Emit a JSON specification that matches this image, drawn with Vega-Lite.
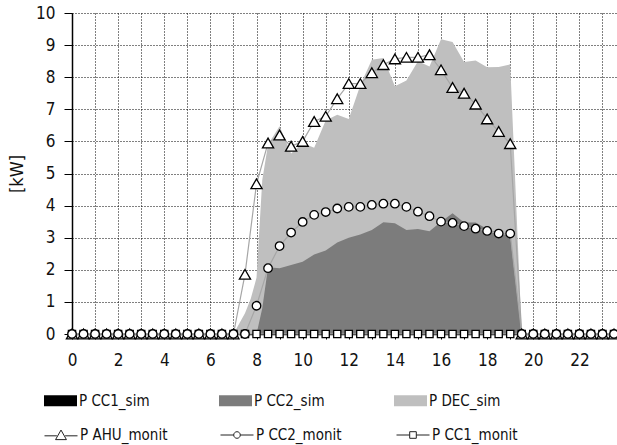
{
  "$schema": "https://vega.github.io/schema/vega-lite/v6.json",
  "autosize": {"type": "none"},
  "padding": {"left": 72, "top": 13, "right": 0, "bottom": 111},
  "width": 545,
  "height": 321,
  "config": {
    "font": "DejaVu Sans Condensed, DejaVu Sans",
    "view": {"stroke": null},
    "axis": {"labelColor": "#111", "titleColor": "#111", "labelFont": "DejaVu Sans Condensed, DejaVu Sans", "titleFont": "DejaVu Sans Condensed, DejaVu Sans"},
    "legend": {"labelFont": "DejaVu Sans Condensed, DejaVu Sans", "labelFontSize": 15, "labelColor": "#111", "padding": 0}
  },
  "datasets": {
    "sim": [
      {"h": 0, "s": "P DEC_sim", "v": 0}, {"h": 6.5, "s": "P DEC_sim", "v": 0}, {"h": 7, "s": "P DEC_sim", "v": 0},
      {"h": 7.5, "s": "P DEC_sim", "v": 0.65}, {"h": 7.75, "s": "P DEC_sim", "v": 1.1}, {"h": 8, "s": "P DEC_sim", "v": 1.75},
      {"h": 8.25, "s": "P DEC_sim", "v": 4.8}, {"h": 8.5, "s": "P DEC_sim", "v": 5.9}, {"h": 9, "s": "P DEC_sim", "v": 6.47},
      {"h": 9.5, "s": "P DEC_sim", "v": 5.62}, {"h": 10, "s": "P DEC_sim", "v": 5.95}, {"h": 10.5, "s": "P DEC_sim", "v": 5.8},
      {"h": 11, "s": "P DEC_sim", "v": 6.65}, {"h": 11.5, "s": "P DEC_sim", "v": 6.83}, {"h": 12, "s": "P DEC_sim", "v": 6.7},
      {"h": 12.5, "s": "P DEC_sim", "v": 7.75}, {"h": 13, "s": "P DEC_sim", "v": 8.54}, {"h": 13.5, "s": "P DEC_sim", "v": 8.6},
      {"h": 14, "s": "P DEC_sim", "v": 7.72}, {"h": 14.5, "s": "P DEC_sim", "v": 7.9}, {"h": 15, "s": "P DEC_sim", "v": 8.5},
      {"h": 15.5, "s": "P DEC_sim", "v": 8.33}, {"h": 16, "s": "P DEC_sim", "v": 9.18}, {"h": 16.5, "s": "P DEC_sim", "v": 9.1},
      {"h": 17, "s": "P DEC_sim", "v": 8.47}, {"h": 17.5, "s": "P DEC_sim", "v": 8.52}, {"h": 18, "s": "P DEC_sim", "v": 8.31},
      {"h": 18.5, "s": "P DEC_sim", "v": 8.32}, {"h": 19, "s": "P DEC_sim", "v": 8.4}, {"h": 19.5, "s": "P DEC_sim", "v": 0},
      {"h": 23.5, "s": "P DEC_sim", "v": 0},
      {"h": 0, "s": "P CC2_sim", "v": 0}, {"h": 7.5, "s": "P CC2_sim", "v": 0}, {"h": 8, "s": "P CC2_sim", "v": 0},
      {"h": 8.25, "s": "P CC2_sim", "v": 0.8}, {"h": 8.5, "s": "P CC2_sim", "v": 2.08}, {"h": 9, "s": "P CC2_sim", "v": 2.05},
      {"h": 9.5, "s": "P CC2_sim", "v": 2.15}, {"h": 10, "s": "P CC2_sim", "v": 2.25}, {"h": 10.5, "s": "P CC2_sim", "v": 2.48},
      {"h": 11, "s": "P CC2_sim", "v": 2.6}, {"h": 11.5, "s": "P CC2_sim", "v": 2.85}, {"h": 12, "s": "P CC2_sim", "v": 3.0},
      {"h": 12.5, "s": "P CC2_sim", "v": 3.1}, {"h": 13, "s": "P CC2_sim", "v": 3.24}, {"h": 13.5, "s": "P CC2_sim", "v": 3.48},
      {"h": 14, "s": "P CC2_sim", "v": 3.45}, {"h": 14.5, "s": "P CC2_sim", "v": 3.24}, {"h": 15, "s": "P CC2_sim", "v": 3.27},
      {"h": 15.5, "s": "P CC2_sim", "v": 3.2}, {"h": 16, "s": "P CC2_sim", "v": 3.5}, {"h": 16.5, "s": "P CC2_sim", "v": 3.76},
      {"h": 17, "s": "P CC2_sim", "v": 3.47}, {"h": 17.5, "s": "P CC2_sim", "v": 3.47}, {"h": 18, "s": "P CC2_sim", "v": 3.27},
      {"h": 18.5, "s": "P CC2_sim", "v": 3.15}, {"h": 19, "s": "P CC2_sim", "v": 3.05}, {"h": 19.5, "s": "P CC2_sim", "v": 0},
      {"h": 23.5, "s": "P CC2_sim", "v": 0},
      {"h": 0, "s": "P CC1_sim", "v": 0}, {"h": 23.5, "s": "P CC1_sim", "v": 0}
    ],
    "monit": [
      {"h":0,"s":"P CC1_monit","v":0},{"h":0.5,"s":"P CC1_monit","v":0},{"h":1,"s":"P CC1_monit","v":0},{"h":1.5,"s":"P CC1_monit","v":0},{"h":2,"s":"P CC1_monit","v":0},{"h":2.5,"s":"P CC1_monit","v":0},{"h":3,"s":"P CC1_monit","v":0},{"h":3.5,"s":"P CC1_monit","v":0},{"h":4,"s":"P CC1_monit","v":0},{"h":4.5,"s":"P CC1_monit","v":0},{"h":5,"s":"P CC1_monit","v":0},{"h":5.5,"s":"P CC1_monit","v":0},{"h":6,"s":"P CC1_monit","v":0},{"h":6.5,"s":"P CC1_monit","v":0},{"h":7,"s":"P CC1_monit","v":0},{"h":7.5,"s":"P CC1_monit","v":0},{"h":8,"s":"P CC1_monit","v":0},{"h":8.5,"s":"P CC1_monit","v":0},{"h":9,"s":"P CC1_monit","v":0},{"h":9.5,"s":"P CC1_monit","v":0},{"h":10,"s":"P CC1_monit","v":0},{"h":10.5,"s":"P CC1_monit","v":0},{"h":11,"s":"P CC1_monit","v":0},{"h":11.5,"s":"P CC1_monit","v":0},{"h":12,"s":"P CC1_monit","v":0},{"h":12.5,"s":"P CC1_monit","v":0},{"h":13,"s":"P CC1_monit","v":0},{"h":13.5,"s":"P CC1_monit","v":0},{"h":14,"s":"P CC1_monit","v":0},{"h":14.5,"s":"P CC1_monit","v":0},{"h":15,"s":"P CC1_monit","v":0},{"h":15.5,"s":"P CC1_monit","v":0},{"h":16,"s":"P CC1_monit","v":0},{"h":16.5,"s":"P CC1_monit","v":0},{"h":17,"s":"P CC1_monit","v":0},{"h":17.5,"s":"P CC1_monit","v":0},{"h":18,"s":"P CC1_monit","v":0},{"h":18.5,"s":"P CC1_monit","v":0},{"h":19,"s":"P CC1_monit","v":0},{"h":19.5,"s":"P CC1_monit","v":0},{"h":20,"s":"P CC1_monit","v":0},{"h":20.5,"s":"P CC1_monit","v":0},{"h":21,"s":"P CC1_monit","v":0},{"h":21.5,"s":"P CC1_monit","v":0},{"h":22,"s":"P CC1_monit","v":0},{"h":22.5,"s":"P CC1_monit","v":0},{"h":23,"s":"P CC1_monit","v":0},{"h":23.5,"s":"P CC1_monit","v":0},
      {"h":0,"s":"P AHU_monit","v":0},{"h":0.5,"s":"P AHU_monit","v":0},{"h":1,"s":"P AHU_monit","v":0},{"h":1.5,"s":"P AHU_monit","v":0},{"h":2,"s":"P AHU_monit","v":0},{"h":2.5,"s":"P AHU_monit","v":0},{"h":3,"s":"P AHU_monit","v":0},{"h":3.5,"s":"P AHU_monit","v":0},{"h":4,"s":"P AHU_monit","v":0},{"h":4.5,"s":"P AHU_monit","v":0},{"h":5,"s":"P AHU_monit","v":0},{"h":5.5,"s":"P AHU_monit","v":0},{"h":6,"s":"P AHU_monit","v":0},{"h":6.5,"s":"P AHU_monit","v":0},{"h":7,"s":"P AHU_monit","v":0},{"h":7.5,"s":"P AHU_monit","v":1.86},{"h":8,"s":"P AHU_monit","v":4.68},{"h":8.5,"s":"P AHU_monit","v":5.95},{"h":9,"s":"P AHU_monit","v":6.2},{"h":9.5,"s":"P AHU_monit","v":5.85},{"h":10,"s":"P AHU_monit","v":6.0},{"h":10.5,"s":"P AHU_monit","v":6.62},{"h":11,"s":"P AHU_monit","v":6.78},{"h":11.5,"s":"P AHU_monit","v":7.33},{"h":12,"s":"P AHU_monit","v":7.8},{"h":12.5,"s":"P AHU_monit","v":7.8},{"h":13,"s":"P AHU_monit","v":8.14},{"h":13.5,"s":"P AHU_monit","v":8.39},{"h":14,"s":"P AHU_monit","v":8.57},{"h":14.5,"s":"P AHU_monit","v":8.62},{"h":15,"s":"P AHU_monit","v":8.62},{"h":15.5,"s":"P AHU_monit","v":8.7},{"h":16,"s":"P AHU_monit","v":8.23},{"h":16.5,"s":"P AHU_monit","v":7.68},{"h":17,"s":"P AHU_monit","v":7.5},{"h":17.5,"s":"P AHU_monit","v":7.16},{"h":18,"s":"P AHU_monit","v":6.7},{"h":18.5,"s":"P AHU_monit","v":6.31},{"h":19,"s":"P AHU_monit","v":5.93},{"h":19.5,"s":"P AHU_monit","v":0},{"h":20,"s":"P AHU_monit","v":0},{"h":20.5,"s":"P AHU_monit","v":0},{"h":21,"s":"P AHU_monit","v":0},{"h":21.5,"s":"P AHU_monit","v":0},{"h":22,"s":"P AHU_monit","v":0},{"h":22.5,"s":"P AHU_monit","v":0},{"h":23,"s":"P AHU_monit","v":0},{"h":23.5,"s":"P AHU_monit","v":0},
      {"h":0,"s":"P CC2_monit","v":0},{"h":0.5,"s":"P CC2_monit","v":0},{"h":1,"s":"P CC2_monit","v":0},{"h":1.5,"s":"P CC2_monit","v":0},{"h":2,"s":"P CC2_monit","v":0},{"h":2.5,"s":"P CC2_monit","v":0},{"h":3,"s":"P CC2_monit","v":0},{"h":3.5,"s":"P CC2_monit","v":0},{"h":4,"s":"P CC2_monit","v":0},{"h":4.5,"s":"P CC2_monit","v":0},{"h":5,"s":"P CC2_monit","v":0},{"h":5.5,"s":"P CC2_monit","v":0},{"h":6,"s":"P CC2_monit","v":0},{"h":6.5,"s":"P CC2_monit","v":0},{"h":7,"s":"P CC2_monit","v":0},{"h":7.5,"s":"P CC2_monit","v":0},{"h":8,"s":"P CC2_monit","v":0.88},{"h":8.5,"s":"P CC2_monit","v":2.05},{"h":9,"s":"P CC2_monit","v":2.74},{"h":9.5,"s":"P CC2_monit","v":3.16},{"h":10,"s":"P CC2_monit","v":3.49},{"h":10.5,"s":"P CC2_monit","v":3.71},{"h":11,"s":"P CC2_monit","v":3.8},{"h":11.5,"s":"P CC2_monit","v":3.91},{"h":12,"s":"P CC2_monit","v":3.96},{"h":12.5,"s":"P CC2_monit","v":3.96},{"h":13,"s":"P CC2_monit","v":4.02},{"h":13.5,"s":"P CC2_monit","v":4.06},{"h":14,"s":"P CC2_monit","v":4.06},{"h":14.5,"s":"P CC2_monit","v":3.96},{"h":15,"s":"P CC2_monit","v":3.81},{"h":15.5,"s":"P CC2_monit","v":3.67},{"h":16,"s":"P CC2_monit","v":3.5},{"h":16.5,"s":"P CC2_monit","v":3.46},{"h":17,"s":"P CC2_monit","v":3.36},{"h":17.5,"s":"P CC2_monit","v":3.28},{"h":18,"s":"P CC2_monit","v":3.21},{"h":18.5,"s":"P CC2_monit","v":3.13},{"h":19,"s":"P CC2_monit","v":3.13},{"h":19.5,"s":"P CC2_monit","v":0},{"h":20,"s":"P CC2_monit","v":0},{"h":20.5,"s":"P CC2_monit","v":0},{"h":21,"s":"P CC2_monit","v":0},{"h":21.5,"s":"P CC2_monit","v":0},{"h":22,"s":"P CC2_monit","v":0},{"h":22.5,"s":"P CC2_monit","v":0},{"h":23,"s":"P CC2_monit","v":0},{"h":23.5,"s":"P CC2_monit","v":0}
    ]
  },
  "encoding": {
    "x": {
      "field": "h", "type": "quantitative",
      "scale": {"domain": [0, 23.63], "nice": false, "zero": false},
      "axis": {
        "title": null,
        "values": [0,1,2,3,4,5,6,7,8,9,10,11,12,13,14,15,16,17,18,19,20,21,22,23,24],
        "labelExpr": "datum.value % 2 == 0 ? datum.label : ''",
        "labelFontSize": 17, "labelPadding": 13, "tickSize": 5, "tickColor": "#000",
        "domainColor": "#000", "domainWidth": 1.5,
        "grid": true, "gridColor": "#000", "gridDash": [1, 2], "gridWidth": 1, "gridOpacity": 1,
        "labelFlush": false, "labelOverlap": false
      }
    },
    "y": {
      "field": "v", "type": "quantitative",
      "scale": {"domain": [0, 10], "nice": false},
      "axis": {
        "title": "[kW]", "titleFontSize": 18, "titleFontWeight": "normal", "titlePadding": 9,
        "values": [0,1,2,3,4,5,6,7,8,9,10],
        "labelFontSize": 17, "labelPadding": 9, "tickSize": 8, "tickColor": "#000",
        "domainColor": "#000", "domainWidth": 1.5,
        "grid": true, "gridColor": "#000", "gridDash": [1, 2], "gridWidth": 1, "gridOpacity": 1
      }
    }
  },
  "layer": [
    {
      "data": {"name": "sim"},
      "transform": [{"filter": "datum.s == 'P DEC_sim'"}],
      "mark": {"type": "area", "interpolate": "linear"},
      "encoding": {
        "y": {"field": "v", "type": "quantitative", "stack": null},
        "fill": {
          "field": "s", "type": "nominal",
          "scale": {"domain": ["P CC1_sim", "P CC2_sim", "P DEC_sim"], "range": ["#000000", "#7c7c7c", "#bfbfbf"]},
          "legend": {
            "title": null, "orient": "none", "legendX": -28, "legendY": 371, "direction": "horizontal", "columns": 3,
            "symbolType": "M-1,-0.33H1V0.33H-1Z", "symbolSize": 1089, "symbolStrokeWidth": 0,
            "labelOffset": 2, "gridAlign": "all", "columnPadding": 68
          }
        }
      }
    },
    {
      "data": {"name": "sim"},
      "transform": [{"filter": "datum.s == 'P CC2_sim'"}],
      "mark": {"type": "area", "interpolate": "linear"},
      "encoding": {
        "y": {"field": "v", "type": "quantitative", "stack": null},
        "fill": {"field": "s", "type": "nominal"}
      }
    },
    {
      "data": {"name": "sim"},
      "transform": [{"filter": "datum.s == 'P CC1_sim'"}],
      "mark": {"type": "area", "interpolate": "linear"},
      "encoding": {
        "y": {"field": "v", "type": "quantitative", "stack": null},
        "fill": {"field": "s", "type": "nominal"}
      }
    },
    {
      "data": {"name": "monit"},
      "mark": {"type": "line", "color": "#a6a6a6", "strokeWidth": 1.2},
      "encoding": {"detail": {"field": "s", "type": "nominal"}}
    },
    {
      "data": {"name": "monit"},
      "transform": [{"filter": "datum.s == 'P CC1_monit'"}],
      "mark": {"type": "point", "shape": "square", "filled": true, "fill": "#fff", "stroke": "#000", "strokeWidth": 1.3, "opacity": 1, "size": 52},
      "encoding": {}
    },
    {
      "data": {"name": "monit"},
      "transform": [{"filter": "datum.s == 'P AHU_monit'"}],
      "mark": {"type": "point", "shape": "triangle-up", "filled": true, "fill": "#fff", "stroke": "#000", "strokeWidth": 1.3, "opacity": 1, "size": 125},
      "encoding": {}
    },
    {
      "data": {"name": "monit"},
      "transform": [{"filter": "datum.s == 'P CC2_monit'"}],
      "mark": {"type": "point", "shape": "circle", "filled": true, "fill": "#fff", "stroke": "#000", "strokeWidth": 1.3, "opacity": 1, "size": 72},
      "encoding": {}
    },
    {
      "data": {"name": "monit"},
      "transform": [{"filter": "datum.v < 0"}],
      "mark": {"type": "point", "filled": false, "stroke": "#000", "strokeWidth": 1, "opacity": 1},
      "encoding": {
        "shape": {
          "field": "s", "type": "nominal",
          "scale": {
            "domain": ["P AHU_monit", "P CC2_monit", "P CC1_monit"],
            "range": [
              "M-1,0.05H-0.25M0.25,0.05H1M0,-0.3L-0.33,0.28L0.33,0.28Z",
              "M-1,0H-0.2M0.2,0H1M0.2,0A0.2,0.2,0,1,1,-0.2,0A0.2,0.2,0,1,1,0.2,0Z",
              "M-1,0H-0.2M0.2,0H1M-0.2,-0.2H0.2V0.2H-0.2Z"
            ]
          },
          "legend": {
            "title": null, "orient": "none", "legendX": -28, "legendY": 405, "direction": "horizontal", "columns": 3,
            "symbolSize": 1089, "symbolStrokeColor": "#222", "symbolFillColor": "#fff", "symbolStrokeWidth": 1,
            "labelOffset": 2, "gridAlign": "all", "columnPadding": 50
          }
        }
      }
    },
    {
      "mark": {"type": "rule", "color": "#000", "strokeWidth": 1.5},
      "encoding": {"y": {"datum": 10}}
    }
  ]
}
